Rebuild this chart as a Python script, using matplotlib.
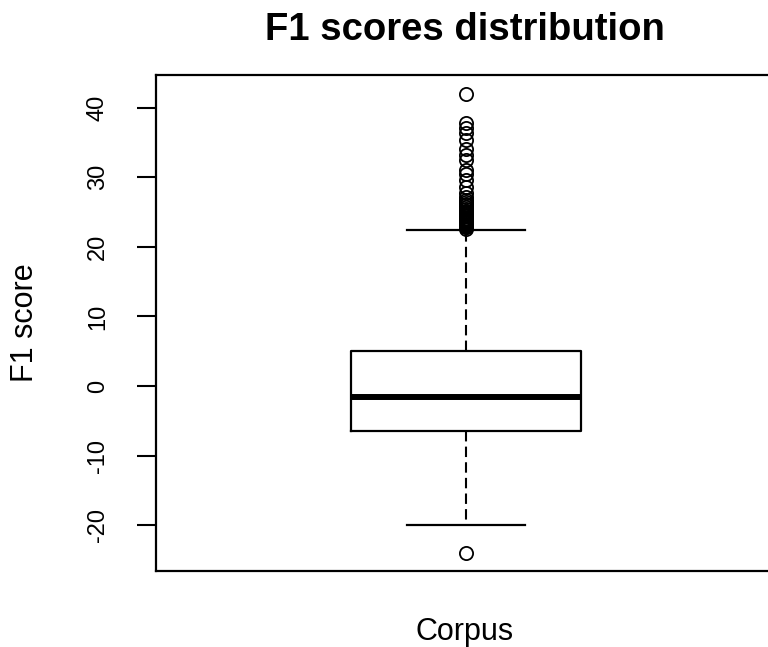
import matplotlib.pyplot as plt

# box summary
q1 = -6.5
median = -1.6
q3 = 5.0
whisker_low = -20.0
whisker_high = 22.4
outliers = [42.0, 37.8, 37.1, 36.4, 35.4, 34.0, 33.2, 32.5, 31.1, 30.4,
            29.6, 28.6, 27.8, 27.2, 26.8, 26.5, 26.2, 26.0, 25.7, 25.4,
            25.2, 25.0, 24.8, 24.6, 24.4, 24.2, 24.0, 23.9, 23.7, 23.6,
            23.5, 23.3, 23.2, 23.1, 23.0, 22.9, 22.8, 22.6, -24.0]
yticks = [-20, -10, 0, 10, 20, 30, 40]

plt.rcParams['font.family'] = ['Liberation Sans', 'DejaVu Sans']

fig = plt.figure(figsize=(7.68, 6.47), dpi=100)
ax = fig.add_axes([156 / 768, 1 - 571 / 647, 620 / 768, (571 - 75) / 647])

stats = [{
    'med': median, 'q1': q1, 'q3': q3,
    'whislo': whisker_low, 'whishi': whisker_high,
    'fliers': outliers, 'label': '',
}]
ax.bxp(stats, positions=[1], widths=0.37,
       boxprops=dict(color='black', linewidth=1.6),
       medianprops=dict(color='black', linewidth=4.3, solid_capstyle='butt'),
       whiskerprops=dict(color='black', linewidth=1.5, linestyle=(0, (5, 2.5))),
       capprops=dict(color='black', linewidth=1.6),
       capwidths=0.19,
       flierprops=dict(marker='o', markerfacecolor='none', markeredgecolor='black',
                       markersize=9.5, markeredgewidth=1.3))

ax.set_xlim(0.5, 1.5)
ax.set_ylim(-26.6, 44.7)
ax.set_xticks([])
ax.set_yticks(yticks)
ax.set_yticklabels([str(t) for t in yticks], rotation=90, va='center', fontsize=17)
ax.tick_params(axis='y', length=14, width=1.5, pad=20)
for s in ax.spines.values():
    s.set_linewidth(1.6)

fig.text(465 / 768, 1 - 30 / 647, 'F1 scores distribution', ha='center', va='center',
         fontsize=27.5, fontweight='bold')
fig.text(465 / 768, 1 - 632 / 647, 'Corpus', ha='center', va='center', fontsize=22)
fig.text(25 / 768, 1 - 323 / 647, 'F1 score', ha='center', va='center', fontsize=22,
         rotation=90)

fig.savefig('out.png', dpi=100)
